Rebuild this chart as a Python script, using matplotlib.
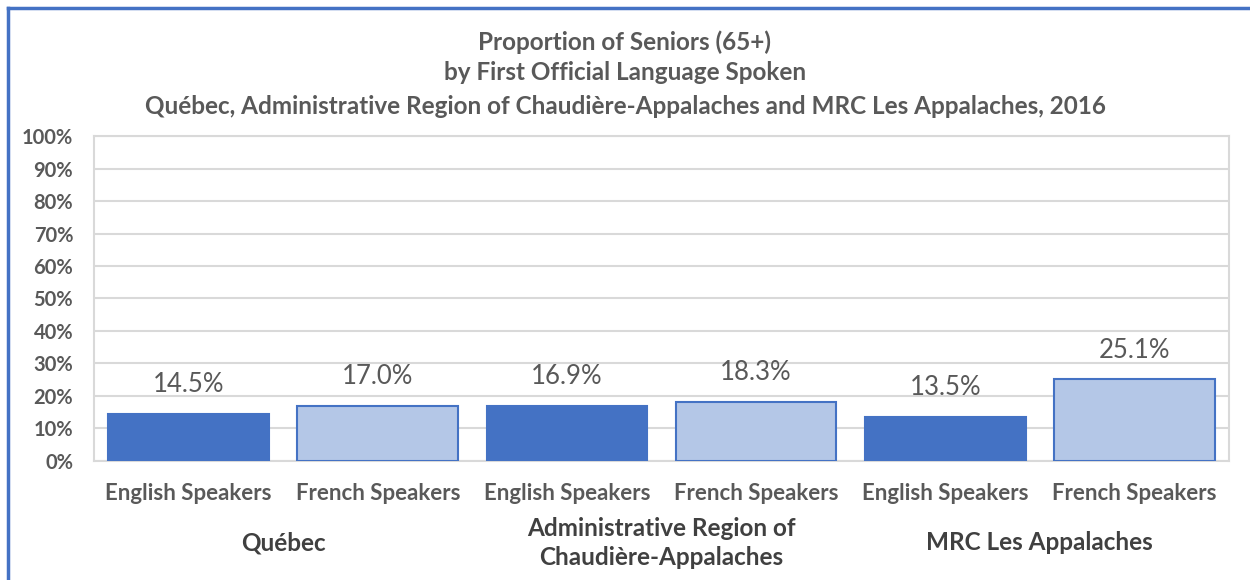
import matplotlib.pyplot as plt
import numpy as np
from matplotlib.lines import Line2D

# data
groups = ['Québec', 'Administrative Region of\nChaudière-Appalaches', 'MRC Les Appalaches']
speakers = ['English Speakers', 'French Speakers']
values = [14.5, 17.0, 16.9, 18.3, 13.5, 25.1]

plt.rcParams['font.family'] = ['Lato', 'DejaVu Sans']
grey = '#595959'
blue = '#4472C4'
light = '#B4C7E7'

fig = plt.figure(figsize=(12.5, 5.8), dpi=100)
ax = fig.add_axes([0.0752, 0.2052, 0.908, 0.5603])

x = np.arange(len(values))
colors = [blue if i % 2 == 0 else light for i in range(len(values))]
bars = ax.bar(x, values, width=0.85, color=colors, edgecolor=blue, linewidth=1.5, zorder=3)

for xi, v in zip(x, values):
    ax.annotate(f'{v:.1f}%', (xi, v), xytext=(0, 12), textcoords='offset points',
                ha='center', va='bottom', fontsize=18.5, color=grey)

ax.set_xlim(-0.5, len(values) - 0.5)
ax.set_ylim(0, 100)
ax.set_yticks(range(0, 101, 10))
ax.set_yticklabels([f'{t}%' for t in range(0, 101, 10)], fontsize=14.5, fontweight='bold', color=grey)
ax.yaxis.grid(True, color='#d9d9d9', linewidth=1.5, zorder=0)
ax.set_axisbelow(True)
ax.tick_params(axis='y', length=0, pad=15)
ax.set_xticks(x)
ax.set_xticklabels([speakers[i % 2] for i in x], fontsize=16, fontweight='bold', color=grey)
ax.tick_params(axis='x', length=0, pad=16)
for s in ax.spines.values():
    s.set_color('#d9d9d9')
    s.set_linewidth(1.5)

# group labels under the categories
for gi, g in enumerate(groups):
    fig.text(0.0752 + 0.908 * (2 * gi + 1) / 6, (580 - 543) / 580, g, ha='center', va='center',
             fontsize=17.5, fontweight='bold', color='#404040', linespacing=1.3)

fig.text(0.5, (580 - 42) / 580, 'Proportion of Seniors (65+)', ha='center', va='center',
         fontsize=17.5, fontweight='bold', color=grey)
fig.text(0.5, (580 - 73) / 580, 'by First Official Language Spoken', ha='center', va='center',
         fontsize=17.5, fontweight='bold', color=grey)
fig.text(0.5, (580 - 106) / 580,
         'Québec, Administrative Region of Chaudière-Appalaches and MRC Les Appalaches, 2016',
         ha='center', va='center', fontsize=17.5, fontweight='bold', color=grey)

# chart border (left and top visible)
fig.add_artist(Line2D([8 / 1250, 8 / 1250], [0, 1 - 8 / 580], color=blue, linewidth=2.5))
fig.add_artist(Line2D([8 / 1250, 1], [1 - 8 / 580, 1 - 8 / 580], color=blue, linewidth=2.5))

fig.savefig('out.png', dpi=100)
